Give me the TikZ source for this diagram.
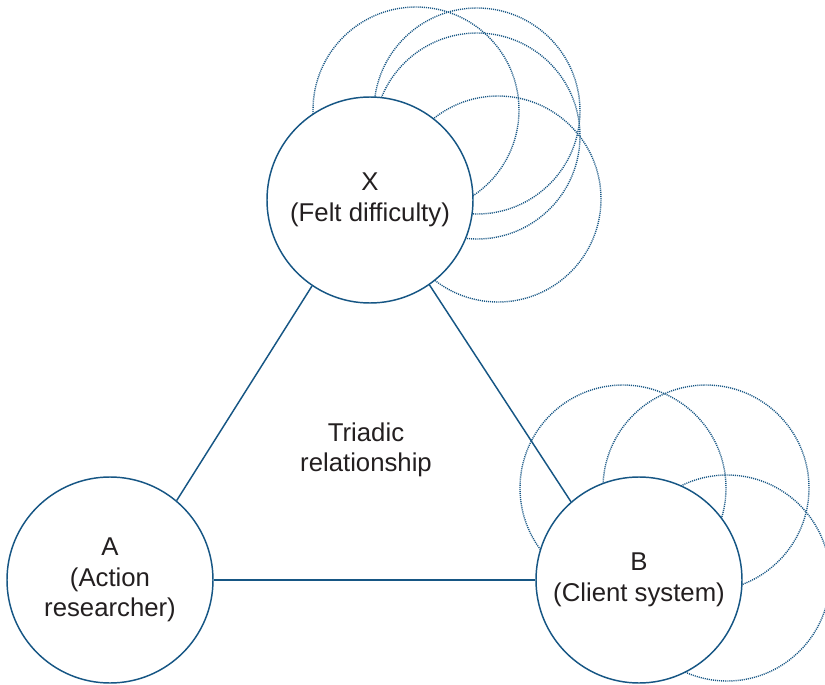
\documentclass[tikz,border=0pt]{standalone}
\usepackage{fontspec}
\setmainfont{Liberation Sans}
\definecolor{lineblue}{RGB}{22,86,132}
\definecolor{txt}{RGB}{35,31,32}
\begin{document}
\begin{tikzpicture}[x=0.75pt,y=-0.75pt,
  dotcirc/.style={draw=lineblue,line width=1.05pt,dash pattern=on 0.8pt off 0.75pt},
  bigcirc/.style={circle,draw=lineblue,line width=1.1pt,fill=white,minimum size=154.5pt,inner sep=0pt,
    text=txt,align=center,font=\fontsize{19.3}{23}\selectfont},
  link/.style={draw=lineblue,line width=1.1pt},
  lbl/.style={text=txt,align=center,font=\fontsize{19.3}{23}\selectfont}]
\useasboundingbox (0,0) rectangle (825,685);
\clip (0,0) rectangle (825,685);
% dotted circles around X
\draw[dotcirc] (416,110) circle[radius=77.25pt];
\draw[dotcirc] (477,111) circle[radius=77.25pt];
\draw[dotcirc] (477,136) circle[radius=77.25pt];
\draw[dotcirc] (498,199) circle[radius=77.25pt];
% dotted circles around B
\draw[dotcirc] (623,488) circle[radius=77.25pt];
\draw[dotcirc] (706,488) circle[radius=77.25pt];
\draw[dotcirc] (727,578) circle[radius=77.25pt];
% main circles
\node[bigcirc] (X) at (370,200) {X\\(Felt difficulty)};
\node[bigcirc] (A) at (110,580) {A\\(Action\\researcher)};
\node[bigcirc] (B) at (639,580) {B\\(Client system)};
\node[lbl] (T) at (366,450) {Triadic\\relationship};
% links
\draw[link] (A.50) -- (X.236);
\draw[link] (X.305) -- (B.131);
\draw[link] (A.east) -- (B.west);
\end{tikzpicture}
\end{document}
